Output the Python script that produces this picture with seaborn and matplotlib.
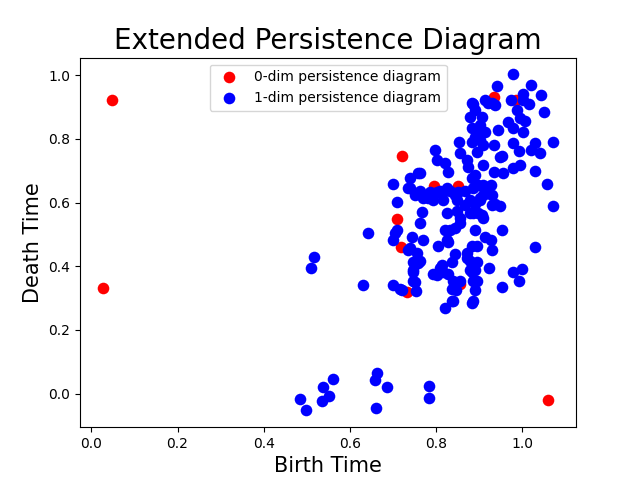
import matplotlib
matplotlib.use("Agg")
import matplotlib.pyplot as plt
import seaborn as sns
import pandas as pd

# 0-dim persistence points (birth, death)
dim0_birth = [0.049, 0.026, 1.060, 0.720, 0.709, 0.719, 0.733, 0.795, 0.851, 0.856, 0.933, 0.986]
dim0_death = [0.921, 0.333, -0.019, 0.748, 0.547, 0.462, 0.318, 0.651, 0.651, 0.343, 0.931, 0.921]

# 1-dim persistence points (birth, death)
dim1_birth = [
    0.484, 0.498, 0.535, 0.551, 0.537, 0.560, 0.663, 0.658, 0.686, 0.660, 0.784, 0.784,
    0.516, 0.509, 0.642, 0.630,
    0.700, 0.721, 0.753, 0.747, 0.802, 0.821, 0.837, 0.884, 0.953, 0.991, 1.000, 0.979,
    1.030, 0.923, 0.895, 0.891, 0.895, 0.891, 0.886, 0.930, 0.914, 0.926, 0.895, 0.891,
    0.953, 0.907, 0.886, 0.909, 0.921, 0.930, 0.949, 1.072, 1.056, 0.909, 0.886, 0.891,
    0.933, 0.956, 0.979, 0.995, 1.030, 0.909, 0.895, 0.909, 0.933, 0.953, 0.979, 0.991,
    1.019, 1.040, 1.030, 1.072, 0.895, 0.944, 0.979, 1.002, 0.907, 0.967, 0.995, 1.007,
    0.988, 1.049, 0.886, 0.914, 0.930, 0.974, 1.002, 1.016, 1.002, 1.042, 1.019, 0.940,
    0.977, 0.884, 0.879, 0.891, 0.884, 0.891, 0.853, 0.798, 0.856, 0.802, 0.821, 0.828,
    0.872, 0.874, 0.884, 0.758, 0.740, 0.700, 0.740, 0.763, 0.786, 0.826, 0.867, 0.879,
    0.849, 0.816, 0.793, 0.770, 0.809, 0.709, 0.767, 0.763, 0.826, 0.856, 0.879, 0.821,
    0.833, 0.856, 0.705, 0.700, 0.744, 0.770, 0.805, 0.828, 0.740, 0.756, 0.844, 0.872,
    0.879, 0.837, 0.747, 0.763, 0.809, 0.816, 0.793, 0.747, 0.879, 0.840, 0.856, 0.847,
    0.921, 0.937, 0.902, 0.914, 0.902, 0.884, 0.949, 0.898, 0.926, 0.902, 0.867, 0.844,
    0.763, 0.735, 0.751, 0.781, 0.802, 0.814, 0.833, 0.851, 0.902, 0.914, 0.930, 0.891,
    0.849, 0.898, 0.909, 0.937, 0.709, 0.735, 0.758, 0.747, 0.751, 0.716, 0.844, 0.826,
    0.872, 0.884, 0.814, 0.828, 0.884, 0.886, 0.837, 0.840,
]
dim1_death = [
    -0.016, -0.053, -0.022, -0.009, 0.019, 0.047, 0.063, 0.044, 0.019, -0.044, 0.025, -0.013,
    0.428, 0.396, 0.503, 0.340,
    0.340, 0.324, 0.321, 0.355, 0.371, 0.270, 0.292, 0.286, 0.336, 0.355, 0.390, 0.381,
    0.462, 0.393, 0.412, 0.387, 0.355, 0.324, 0.292, 0.450, 0.491, 0.481, 0.465, 0.513,
    0.513, 0.560, 0.566, 0.623, 0.629, 0.591, 0.588, 0.588, 0.660, 0.654, 0.645, 0.686,
    0.695, 0.692, 0.708, 0.717, 0.698, 0.717, 0.758, 0.780, 0.780, 0.748, 0.786, 0.761,
    0.764, 0.755, 0.786, 0.789, 0.821, 0.827, 0.836, 0.821, 0.868, 0.852, 0.865, 0.858,
    0.890, 0.884, 0.909, 0.921, 0.912, 0.921, 0.921, 0.909, 0.940, 0.937, 0.969, 0.965,
    1.003, 0.912, 0.868, 0.890, 0.833, 0.805, 0.789, 0.764, 0.755, 0.733, 0.723, 0.695,
    0.733, 0.711, 0.676, 0.692, 0.676, 0.660, 0.645, 0.638, 0.632, 0.645, 0.638, 0.607,
    0.607, 0.607, 0.607, 0.616, 0.638, 0.601, 0.569, 0.535, 0.566, 0.553, 0.566, 0.513,
    0.513, 0.535, 0.503, 0.481, 0.491, 0.481, 0.465, 0.475, 0.456, 0.443, 0.440, 0.443,
    0.418, 0.412, 0.412, 0.418, 0.396, 0.381, 0.377, 0.387, 0.387, 0.355, 0.355, 0.324,
    0.912, 0.906, 0.843, 0.821, 0.796, 0.789, 0.742, 0.654, 0.654, 0.607, 0.591, 0.623,
    0.692, 0.645, 0.623, 0.616, 0.632, 0.629, 0.638, 0.632, 0.616, 0.638, 0.623, 0.597,
    0.575, 0.566, 0.553, 0.597, 0.513, 0.450, 0.409, 0.381, 0.349, 0.330, 0.519, 0.481,
    0.425, 0.465, 0.403, 0.377, 0.381, 0.355, 0.330, 0.292,
]

df0 = pd.DataFrame({"birth": dim0_birth, "death": dim0_death})
df1 = pd.DataFrame({"birth": dim1_birth, "death": dim1_death})

fig, ax = plt.subplots(figsize=(6.4, 4.8), dpi=100)
sns.scatterplot(data=df0, x="birth", y="death", color="red", s=70, linewidth=0,
                label="0-dim persistence diagram", ax=ax)
sns.scatterplot(data=df1, x="birth", y="death", color="blue", s=70, linewidth=0,
                label="1-dim persistence diagram", ax=ax)

ax.set_title("Extended Persistence Diagram", fontsize=20)
ax.set_xlabel("Birth Time", fontsize=15)
ax.set_ylabel("Death Time", fontsize=15)
ax.legend(loc="upper center")

fig.savefig("out.png", dpi=100)
